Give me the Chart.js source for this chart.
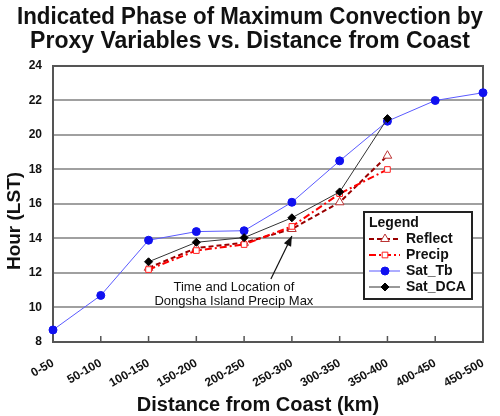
<!DOCTYPE html>
<html>
<head>
<meta charset="utf-8">
<script src="https://cdn.jsdelivr.net/npm/chart.js@4"></script>
<style>
  html, body { margin: 0; padding: 0; background: #fff; }
  #wrap { width: 500px; height: 416px; position: relative; }
</style>
</head>
<body>
<div id="wrap"><canvas id="chartFase"></canvas></div>
<script>
// Datos
const categorias = ['0-50', '50-100', '100-150', '150-200', '200-250', '250-300', '300-350', '350-400', '400-450', '450-500'];
const reflect = [null, null, 12.3, 13.45, 13.75, 14.55, 16.1, 18.8, null, null];
const precip = [null, null, 12.2, 13.3, 13.65, 14.7, 16.6, 18.0, null, null];
const satTb = [8.7, 10.7, 13.9, 14.4, 14.45, 16.1, 18.5, 20.8, 22.0, 22.45];
const satDca = [null, null, 12.65, 13.78, 14.05, 15.2, 16.7, 20.95, null, null];
const yMin = 8, yMax = 24, yPaso = 2;
const tituloY = 'Hour (LST)';
const tituloX = 'Distance from Coast (km)';
const notaTexto = ['Time and Location of', 'Dongsha Island Precip Max'];
const notaIndice = 5, notaValor = 14.15;

const FUENTE = "'Liberation Sans', Arial, sans-serif";

// Borde del área de trazado + marcas del eje x hacia dentro + títulos de ejes
const marcoPlugin = {
    id: 'marco',
    beforeDatasetsDraw(chart) {
        const { ctx, chartArea: a, scales } = chart;
        ctx.save();
        ctx.strokeStyle = '#555';
        ctx.lineWidth = 2;
        ctx.strokeRect(a.left, a.top, a.right - a.left, a.bottom - a.top);
        ctx.lineWidth = 1.5;
        scales.x.ticks.forEach((t, i) => {
            const x = scales.x.getPixelForTick(i);
            ctx.beginPath();
            ctx.moveTo(x, a.bottom);
            ctx.lineTo(x, a.bottom - 6);
            ctx.stroke();
        });
        ctx.fillStyle = '#111';
        ctx.font = `bold 20px ${FUENTE}`;
        ctx.textAlign = 'center';
        ctx.textBaseline = 'middle';
        ctx.fillText(tituloX, (a.left + a.right) / 2 - 10, chart.height - 11);
        // título vertical, algo por debajo del centro como en el original
        ctx.translate(15, (a.top + a.bottom) / 2 + 17);
        ctx.rotate(-Math.PI / 2);
        ctx.font = `bold 19px ${FUENTE}`;
        ctx.fillText(tituloY, 0, 0);
        ctx.restore();
    }
};

// Flecha y texto de la anotación
const notaPlugin = {
    id: 'nota',
    afterDatasetsDraw(chart) {
        const { ctx, scales } = chart;
        const px = scales.x.getPixelForValue(notaIndice);
        const py = scales.y.getPixelForValue(notaValor);
        const tx = px - 21, ty = py + 43;
        ctx.save();
        ctx.strokeStyle = '#111';
        ctx.fillStyle = '#111';
        ctx.lineWidth = 1.2;
        ctx.beginPath();
        ctx.moveTo(tx, ty);
        ctx.lineTo(px, py);
        ctx.stroke();
        const ang = Math.atan2(py - ty, px - tx);
        ctx.beginPath();
        ctx.moveTo(px, py);
        ctx.lineTo(px - 10 * Math.cos(ang) + 4 * Math.sin(ang), py - 10 * Math.sin(ang) - 4 * Math.cos(ang));
        ctx.lineTo(px - 10 * Math.cos(ang) - 4 * Math.sin(ang), py - 10 * Math.sin(ang) + 4 * Math.cos(ang));
        ctx.closePath();
        ctx.fill();
        ctx.font = `13px ${FUENTE}`;
        ctx.textAlign = 'center';
        ctx.textBaseline = 'middle';
        ctx.fillText(notaTexto[0], tx - 37, ty + 9);
        ctx.fillText(notaTexto[1], tx - 37, ty + 23);
        ctx.restore();
    }
};

// Leyenda en recuadro dentro del área
const leyendaPlugin = {
    id: 'leyendaCaja',
    afterDraw(chart) {
        const { ctx } = chart;
        const x0 = 364, y0 = 212, w = 108, h = 87;
        ctx.save();
        ctx.fillStyle = '#fff';
        ctx.fillRect(x0, y0, w, h);
        ctx.strokeStyle = '#222';
        ctx.lineWidth = 2;
        ctx.strokeRect(x0, y0, w, h);
        ctx.fillStyle = '#111';
        ctx.font = `bold 14px ${FUENTE}`;
        ctx.textBaseline = 'middle';
        ctx.fillText('Legend', x0 + 5, y0 + 11);
        chart.data.datasets.forEach((ds, i) => {
            const y = y0 + 27 + i * 16;
            ctx.save();
            ctx.strokeStyle = ds.borderColor;
            ctx.lineWidth = ds.borderWidth;
            ctx.setLineDash(ds.borderDash || []);
            ctx.beginPath();
            ctx.moveTo(x0 + 5, y);
            ctx.lineTo(x0 + 36, y);
            ctx.stroke();
            ctx.setLineDash([]);
            ctx.fillStyle = ds.pointBackgroundColor;
            ctx.strokeStyle = ds.pointBorderColor;
            ctx.lineWidth = ds.pointBorderWidth;
            Chart.helpers.drawPoint(ctx, {
                pointStyle: ds.pointStyle, radius: ds.pointRadius,
                rotation: 0, borderWidth: ds.pointBorderWidth
            }, x0 + 21, y);
            ctx.restore();
            ctx.fillStyle = '#111';
            ctx.font = `bold 14px ${FUENTE}`;
            ctx.fillText(ds.label, x0 + 42, y);
        });
        ctx.restore();
    }
};

new Chart(document.getElementById('chartFase'), {
    type: 'line',
    data: {
        labels: categorias,
        datasets: [
            {
                label: 'Reflect', data: reflect, order: 3,
                borderColor: '#990000', borderWidth: 2, borderDash: [5, 3],
                pointStyle: 'triangle', pointRadius: 5,
                pointBackgroundColor: '#fff', pointBorderColor: '#b33', pointBorderWidth: 1
            },
            {
                label: 'Precip', data: precip, order: 2,
                borderColor: '#ff0000', borderWidth: 2, borderDash: [7, 3, 2, 3],
                pointStyle: 'rect', pointRadius: 4,
                pointBackgroundColor: '#fff', pointBorderColor: '#ff2020', pointBorderWidth: 1
            },
            {
                label: 'Sat_Tb', data: satTb, order: 4,
                borderColor: '#5a5aff', borderWidth: 1,
                pointStyle: 'circle', pointRadius: 4,
                pointBackgroundColor: '#1010f0', pointBorderColor: '#1010f0', pointBorderWidth: 1
            },
            {
                label: 'Sat_DCA', data: satDca, order: 1,
                borderColor: '#333', borderWidth: 1,
                pointStyle: 'rectRot', pointRadius: 4,
                pointBackgroundColor: '#000', pointBorderColor: '#000', pointBorderWidth: 1
            }
        ]
    },
    options: {
        responsive: true,
        maintainAspectRatio: false,
        animation: false,
        layout: { padding: { left: 17, right: 17, top: 0, bottom: 0 } },
        plugins: {
            legend: { display: false },
            tooltip: { enabled: false },
            title: {
                display: true,
                text: ['Indicated Phase of Maximum Convection by', 'Proxy Variables vs. Distance from Coast'],
                color: '#111',
                font: { family: FUENTE, size: 23, weight: 'bold', lineHeight: 1.065 },
                padding: { top: 5, bottom: 12 }
            }
        },
        scales: {
            x: {
                offset: false,
                grid: { display: false },
                border: { display: false },
                ticks: {
                    color: '#111', autoSkip: false, minRotation: 30, maxRotation: 30, padding: 6,
                    font: { family: FUENTE, size: 12, weight: 'bold' }
                },
                title: { display: false },
                afterFit(scale) { scale.height = 74; }
            },
            y: {
                min: yMin, max: yMax,
                grid: { color: '#a0a0a0', lineWidth: 2, drawTicks: false },
                border: { display: false },
                ticks: {
                    stepSize: yPaso, color: '#111', padding: 11,
                    font: { family: FUENTE, size: 12, weight: 'bold' }
                },
                title: { display: false },
                afterFit(scale) { scale.width = 36; }
            }
        }
    },
    plugins: [marcoPlugin, notaPlugin, leyendaPlugin]
});
</script>
</body>
</html>
